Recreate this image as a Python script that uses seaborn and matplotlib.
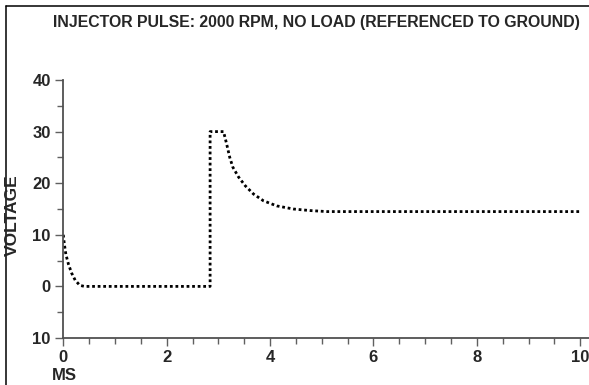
import matplotlib
matplotlib.use("Agg")
import matplotlib.pyplot as plt
from matplotlib.lines import Line2D
from matplotlib.ticker import MultipleLocator, FuncFormatter
import seaborn as sns

# Injector pulse trace: time (ms) and voltage (V)
time_ms = [0.0, 0.02, 0.05, 0.1, 0.16, 0.23, 0.32, 0.41,
           1.0, 2.0, 2.84, 2.84, 3.1, 3.16, 3.22, 3.28, 3.39, 3.52,
           3.68, 3.87, 4.13, 4.45, 4.77, 5.1, 6.0, 8.0, 10.0]
voltage = [10.0, 8.2, 6.2, 4.3, 2.6, 1.2, 0.2, 0.0,
           0.0, 0.0, 0.0, 30.0, 30.0, 27.6, 25.0, 23.1, 21.2, 19.5,
           17.9, 16.6, 15.6, 15.0, 14.7, 14.5, 14.5, 14.5, 14.5]

x_major = [0, 2, 4, 6, 8, 10]
y_major = [-10, 0, 10, 20, 30, 40]

title = "INJECTOR PULSE: 2000 RPM, NO LOAD (REFERENCED TO GROUND)"

sns.set_style("ticks")
plt.rcParams["font.family"] = ["Liberation Sans Narrow", "Liberation Sans", "DejaVu Sans"]
plt.rcParams["font.weight"] = "bold"

fig = plt.figure(figsize=(5.89, 3.85), dpi=100)
ax = fig.add_axes([63.3 / 589, 1 - 338 / 385, 1 - 63.3 / 589, (338 - 80) / 385])

sns.lineplot(x=time_ms, y=voltage, ax=ax, sort=False, estimator=None,
             color="black", linewidth=2.0, linestyle=(0, (1, 1.0)))

ax.set_xlim(0, 10.17)
ax.set_ylim(-10, 40)
ax.set_xticks(x_major)
ax.set_yticks(y_major)
ax.xaxis.set_minor_locator(MultipleLocator(0.5))
ax.yaxis.set_minor_locator(MultipleLocator(5))
ax.yaxis.set_major_formatter(FuncFormatter(lambda v, p: f"{abs(int(v))}"))
ax.xaxis.set_major_formatter(FuncFormatter(lambda v, p: f"{int(v)}"))

spine_col = "#505050"
for s in ["top", "right"]:
    ax.spines[s].set_visible(False)
for s in ["left", "bottom"]:
    ax.spines[s].set_color(spine_col)
    ax.spines[s].set_linewidth(1.3)

ax.tick_params(which="major", length=6, width=1.0, color="#606060",
               labelsize=12, pad=3)
ax.tick_params(which="minor", length=4, width=1.0, color="#606060")
for lab in ax.get_xticklabels() + ax.get_yticklabels():
    lab.set_fontweight("bold")
ax.set_xlabel("")
ax.set_ylabel("")

fig.text(316 / 589, 1 - 22 / 385, title, ha="center", va="center",
         fontsize=11.4, fontweight="bold")
fig.text(12 / 589, 1 - 215 / 385, "VOLTAGE", rotation=90, ha="center",
         va="center", fontsize=12.5, fontweight="bold")
fig.text(64 / 589, 1 - 375 / 385, "MS", ha="center", va="center",
         fontsize=12, fontweight="bold")

# Frame lines along the left and top edges
fig.add_artist(Line2D([6 / 589, 6 / 589], [0, 1 - 6 / 385],
                      transform=fig.transFigure, color="black", linewidth=1.1))
fig.add_artist(Line2D([6 / 589, 1], [1 - 6 / 385, 1 - 6 / 385],
                      transform=fig.transFigure, color="black", linewidth=1.1))

fig.savefig("out.png", dpi=100)
